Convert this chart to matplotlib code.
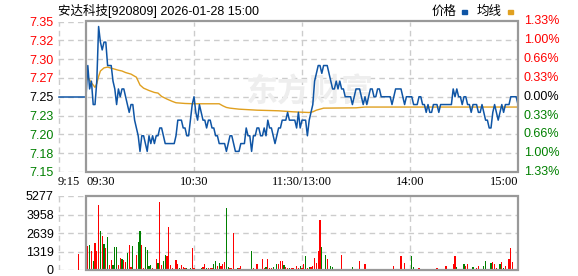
import numpy as np
import matplotlib.pyplot as plt
from matplotlib.patches import Rectangle

plt.rcParams['font.family'] = ['Liberation Sans', 'Noto Sans CJK SC']

# ---- data (minutes after 09:30, 0..240) ----
prev_close = 7.25
pre_open = 7.25          # 9:15-9:30 auction line
pre_vol_minute = -4.4
pre_vol = 1141

price = [7.25, 7.29, 7.26, 7.27, 7.24, 7.24, 7.27, 7.34, 7.32, 7.31,
         7.32, 7.32, 7.29, 7.29, 7.29, 7.27, 7.26, 7.24, 7.26, 7.25,
         7.26, 7.26, 7.25, 7.24, 7.23, 7.24, 7.24, 7.22, 7.21, 7.20,
         7.18, 7.20, 7.20, 7.19, 7.18, 7.20, 7.19, 7.20, 7.19, 7.20,
         7.20, 7.21, 7.21, 7.20, 7.19, 7.19, 7.19, 7.19, 7.19, 7.19,
         7.20, 7.22, 7.22, 7.22, 7.21, 7.21, 7.20, 7.20, 7.22, 7.24,
         7.25, 7.23, 7.22, 7.24, 7.23, 7.22, 7.22, 7.21, 7.22, 7.22,
         7.21, 7.21, 7.20, 7.20, 7.19, 7.19, 7.19, 7.19, 7.18, 7.19,
         7.20, 7.20, 7.19, 7.18, 7.18, 7.18, 7.19, 7.19, 7.19, 7.21,
         7.20, 7.20, 7.18, 7.20, 7.20, 7.21, 7.21, 7.20, 7.20, 7.21,
         7.20, 7.22, 7.21, 7.21, 7.20, 7.19, 7.20, 7.21, 7.21, 7.22,
         7.22, 7.22, 7.23, 7.22, 7.22, 7.22, 7.22, 7.21, 7.23, 7.21,
         7.22, 7.22, 7.22, 7.20, 7.22, 7.23, 7.24, 7.27, 7.28, 7.29,
         7.29, 7.28, 7.29, 7.29, 7.29, 7.28, 7.27, 7.26, 7.26, 7.27,
         7.26, 7.27, 7.26, 7.26, 7.25, 7.25, 7.25, 7.25, 7.24, 7.25,
         7.26, 7.26, 7.26, 7.25, 7.24, 7.25, 7.24, 7.25, 7.26, 7.26,
         7.25, 7.25, 7.26, 7.26, 7.25, 7.25, 7.25, 7.25, 7.25, 7.25,
         7.24, 7.25, 7.26, 7.26, 7.26, 7.26, 7.25, 7.24, 7.25, 7.25,
         7.25, 7.25, 7.24, 7.24, 7.24, 7.25, 7.25, 7.24, 7.24, 7.23,
         7.24, 7.23, 7.23, 7.24, 7.24, 7.24, 7.23, 7.24, 7.24, 7.24,
         7.24, 7.24, 7.24, 7.24, 7.26, 7.25, 7.26, 7.25, 7.25, 7.24,
         7.25, 7.25, 7.24, 7.24, 7.23, 7.24, 7.24, 7.24, 7.23, 7.23,
         7.24, 7.23, 7.22, 7.22, 7.21, 7.21, 7.23, 7.24, 7.23, 7.22,
         7.23, 7.24, 7.23, 7.24, 7.24, 7.24, 7.25, 7.25, 7.25, 7.25,
         7.24]

avg_minutes = [0, 1, 3, 5, 6, 7, 8, 10, 12, 15, 18, 20, 22, 25, 28, 30, 32,
               35, 38, 40, 42, 45, 48, 50, 55, 60, 74, 76, 78, 80, 85, 95,
               107, 115, 124, 126, 128, 130, 132, 150, 155, 240]
avg_price = [7.270, 7.275, 7.268, 7.262, 7.267, 7.276, 7.283, 7.287, 7.288,
             7.286, 7.284, 7.283, 7.281, 7.279, 7.275, 7.265, 7.261, 7.258,
             7.2555, 7.2547, 7.2504, 7.247, 7.244, 7.2423, 7.2414, 7.241,
             7.241, 7.2384, 7.2363, 7.2354, 7.2341, 7.2328, 7.232, 7.2307,
             7.2298, 7.2307, 7.2328, 7.2341, 7.2354, 7.2358, 7.2368, 7.2368]

volume = [200, 1711, 1783, 1379, 642, 1949, 1379, 4635, 2781, 2425,
          1854, 1569, 2353, 357, 713, 357, 1640, 1640, 357, 856,
          784, 713, 570, 1212, 1783, 214, 1711, 60, 1070, 1997,
          2781, 1783, 143, 1640, 1426, 285, 357, 143, 60, 784,
          499, 4849, 357, 642, 1070, 1022, 3066, 357, 143, 60,
          713, 428, 143, 357, 190, 119, 143, 95, 119, 1569,
          143, 95, 95, 60, 119, 190, 428, 119, 143, 143,
          143, 428, 642, 285, 499, 285, 428, 570, 4421, 214,
          143, 143, 2639, 72, 143, 143, 285, 72, 72, 72,
          72, 72, 1355, 143, 72, 428, 72, 72, 784, 143,
          214, 784, 143, 143, 214, 72, 428, 428, 642, 642,
          357, 214, 143, 143, 143, 143, 72, 285, 143, 285,
          143, 428, 998, 143, 214, 214, 285, 856, 499, 1355,
          3566, 1640, 72, 1070, 784, 72, 285, 214, 72, 72,
          72, 72, 1070, 72, 72, 72, 72, 72, 214, 72,
          72, 72, 642, 72, 72, 428, 72, 72, 72, 72,
          72, 72, 72, 72, 72, 72, 72, 72, 72, 72,
          72, 285, 72, 72, 72, 998, 72, 499, 72, 72,
          72, 998, 214, 72, 72, 143, 72, 72, 72, 72,
          72, 72, 60, 72, 60, 143, 72, 72, 72, 60,
          285, 72, 72, 60, 428, 998, 214, 72, 72, 60,
          428, 285, 428, 72, 72, 214, 72, 143, 285, 72,
          72, 285, 642, 72, 72, 499, 570, 428, 143, 72,
          428, 570, 143, 285, 60, 784, 1569, 570, 0, 0,
          1141]
vol_dir = ("rrgrgrrrgr" "grgrrgggrr" "grrgrrggrg" "grrggggrrr" "grrggrrrrg"
           "rrgrrrgrgr" "rggrgrrgrr" "rggrgrrrgg" "rrrrgrrrrg" "grgrrrrgrr"
           "grrrgrgrrr" "grrgrrrrrg" "rrgrgrrrrr" "rgrgrrggrr" "rrrrgrrrgr"
           "rrrrrrgrrg" "rrrrrrrrrr" "rrggrrrrrr" "rggrrrrrgr" "rgrrrrrrrr"
           "rrrrrrgrrr" "grrrrgrrrr" "rggrrgrrrr" "grgrrrrrrr" "g")

price_labels = ['7.35', '7.32', '7.30', '7.27', '7.25', '7.23', '7.20', '7.18', '7.15']
pct_labels = ['1.33%', '1.00%', '0.66%', '0.33%', '0.00%', '0.33%', '0.66%', '1.00%', '1.33%']
vol_labels = ['5277', '3958', '2639', '1319', '0']
time_labels = ['9:15', '09:30', '10:30', '11:30/13:00', '14:00', '15:00']

RED = '#ff0000'
GREEN = '#008000'
BLUE = '#0f55a5'
ORANGE = '#e0a020'
GRID = '#cccccc'
BORDER = '#999999'

minutes = np.arange(len(price))
x_left = -15.56
pct_max = 0.0133
y_top = prev_close * (1 + pct_max)
y_bot = prev_close * (1 - pct_max)
levels = np.linspace(y_top, y_bot, 9)

fig = plt.figure(figsize=(5.78, 2.76), dpi=100)
ax = fig.add_axes([58 / 578, 1 - 172 / 276, 460 / 578, 150.5 / 276])
axv = fig.add_axes([58 / 578, 1 - 270 / 276, 460 / 578, 74 / 276])

dash = (0, (4, 3))
for a in (ax, axv):
    a.set_xlim(x_left, 240)
    for s in a.spines.values():
        s.set_visible(False)
    a.set_xticks([])
    a.tick_params(axis='y', length=0, pad=3, labelsize=9)
    for xv in [x_left + 0.3, 60, 120, 180]:
        a.axvline(xv, color=GRID, lw=1, ls=dash, zorder=0)

# ---- price panel ----
ax.set_ylim(y_bot, y_top)
for lv in levels[1:-1]:
    ax.axhline(lv, color=GRID, lw=1, ls=dash, zorder=0)
ax.plot([x_left, 0], [y_top, y_top], color=GRID, lw=1, ls=dash, zorder=0)
ax.plot([x_left, 0], [y_bot, y_bot], color=GRID, lw=1, ls=dash, zorder=0)

ax.add_patch(Rectangle((0, y_bot), 240, y_top - y_bot, fill=False,
                       edgecolor=BORDER, lw=1.6, zorder=5, clip_on=False))

ax.text(124, 7.256, '东方财富', fontsize=23, fontweight='bold', color='#eeeeee',
        ha='center', va='center', family=['Noto Sans CJK SC'], zorder=0.5)

ax.plot([x_left + 0.3, 0], [pre_open, pre_open], color=BLUE, lw=1.1, zorder=3)
ax.plot(minutes, price, color=BLUE, lw=1.1, zorder=3)
ax.plot(avg_minutes, avg_price, color=ORANGE, lw=1.0, zorder=2)

lab_colors = [RED] * 4 + ['black'] + [GREEN] * 4
ax.set_yticks(levels)
ax.set_yticklabels(price_labels)
for t, c in zip(ax.get_yticklabels(), lab_colors):
    t.set_color(c)
for lv, lab, c in zip(levels, pct_labels, lab_colors):
    ax.text(1 + 6 / 460, lv, lab, color=c, fontsize=9, ha='left', va='center',
            transform=ax.get_yaxis_transform())

# time labels
tx = [x_left, 0, 60, 120, 180, 240]
tha = ['left', 'left', 'center', 'center', 'center', 'right']
for xv, lab, h in zip(tx, time_labels, tha):
    ax.text(xv, y_bot - 0.0122, lab, fontsize=9, ha=h, va='center',
            family=['Liberation Serif'], clip_on=False)

# ---- volume panel ----
vmax = 5277
axv.set_ylim(0, vmax)
vticks = np.linspace(vmax, 0, 5)
for lv in vticks[1:-1]:
    axv.axhline(lv, color=GRID, lw=1, ls=dash, zorder=0)
axv.plot([x_left, 0], [vmax, vmax], color=GRID, lw=1, ls=dash, zorder=0)
axv.plot([x_left, 0], [0, 0], color=GRID, lw=1, ls=dash, zorder=0)
axv.add_patch(Rectangle((0, 0), 240, vmax, fill=False, edgecolor=BORDER,
                        lw=1.6, zorder=5, clip_on=False))
bar_colors = [RED if d == 'r' else GREEN for d in vol_dir]
axv.bar(minutes, volume, width=0.6, color=bar_colors, zorder=3)
axv.bar([pre_vol_minute], [pre_vol], width=0.6, color=RED, zorder=3)
axv.set_yticks(vticks)
axv.set_yticklabels(vol_labels)

# ---- title and legend ----
fig.text(58 / 578, 1 - 11 / 276, '安达科技[920809] 2026-01-28 15:00', fontsize=9,
         ha='left', va='center', family=['Liberation Sans', 'Noto Sans CJK SC'])
fig.text(432 / 578, 1 - 11 / 276, '价格', fontsize=9, ha='left', va='center',
         family=['Noto Sans CJK SC'])
fig.patches.append(Rectangle((462 / 578, 1 - 14 / 276), 5 / 578, 4 / 276,
                             transform=fig.transFigure, color=BLUE))
fig.text(477 / 578, 1 - 11 / 276, '均线', fontsize=9, ha='left', va='center',
         family=['Noto Sans CJK SC'])
fig.patches.append(Rectangle((508 / 578, 1 - 14 / 276), 5 / 578, 4 / 276,
                             transform=fig.transFigure, color=ORANGE))

plt.savefig('out.png', dpi=100)
